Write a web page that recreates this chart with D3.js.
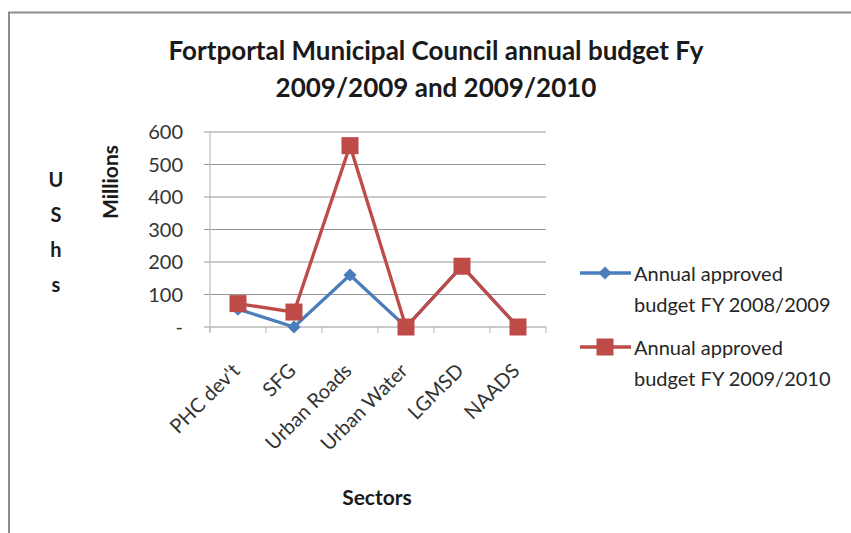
<!DOCTYPE html>
<html>
<head>
<meta charset="utf-8">
<script src="https://cdn.jsdelivr.net/npm/d3@7"></script>
<style>
  body { margin: 0; background: #fff; }
  svg { display: block; font-family: Lato, "Open Sans", sans-serif; }
</style>
</head>
<body>
<div id="chartdiv"></div>
<script>
// Data
var sectors = ["PHC dev't", "SFG", "Urban Roads", "Urban Water", "LGMSD", "NAADS"];
var budget0809 = [55, 0, 160, 0, 187, 0];
var budget0910 = [72, 46, 558, 0, 187, 0];
var yTicks = [0, 100, 200, 300, 400, 500, 600];
var seriesNames = ["Annual approved budget FY 2008/2009", "Annual approved budget FY 2009/2010"];

var svgWidth = 851;
var svgHeight = 533;

var margin = { top: 132, left: 210 };
var width = 336;
var height = 195;

var svg = d3.select("#chartdiv")
    .append("svg")
    .attr("width", svgWidth)
    .attr("height", svgHeight);

// chart frame (only top and left edges visible)
svg.append("path")
    .attr("d", "M9,533 V12.5 H851")
    .attr("fill", "none")
    .attr("stroke", "#8c8c8c")
    .attr("stroke-width", 2);

// title
var title = svg.append("text")
    .attr("text-anchor", "middle")
    .attr("font-weight", "bold")
    .attr("font-size", "26px")
    .attr("fill", "#1a1a1a");
title.append("tspan").attr("x", 436).attr("y", 60).text("Fortportal Municipal Council annual budget Fy");
title.append("tspan").attr("x", 436).attr("y", 97).text("2009/2009 and 2009/2010");

var chartGroup = svg.append("g")
    .attr("transform", `translate(${margin.left}, ${margin.top})`);

var xScale = d3.scaleBand()
    .domain(sectors)
    .range([0, width]);

var yScale = d3.scaleLinear()
    .domain([0, 600])
    .range([height, 0]);

// gridlines
chartGroup.append("g")
    .selectAll("line")
    .data(yTicks)
    .enter()
    .append("line")
    .attr("x1", -6)
    .attr("x2", width)
    .attr("y1", d => yScale(d))
    .attr("y2", d => yScale(d))
    .attr("stroke", "#969696")
    .attr("stroke-width", 1.2);

// y axis line
chartGroup.append("line")
    .attr("x1", 0).attr("x2", 0)
    .attr("y1", 0).attr("y2", height + 5)
    .attr("stroke", "#bdbdbd")
    .attr("stroke-width", 1.2);

// y tick labels
chartGroup.append("g")
    .selectAll("text")
    .data(yTicks)
    .enter()
    .append("text")
    .attr("x", -27)
    .attr("y", d => yScale(d))
    .attr("dy", "0.35em")
    .attr("text-anchor", "end")
    .attr("font-size", "20px")
    .attr("fill", "#333")
    .text(d => d === 0 ? "-" : d);

// x tick marks
var tickPos = sectors.map(s => xScale(s) + xScale.bandwidth()).concat([0]);
chartGroup.append("g")
    .selectAll("line")
    .data(tickPos)
    .enter()
    .append("line")
    .attr("x1", d => d).attr("x2", d => d)
    .attr("y1", height).attr("y2", height + 6)
    .attr("stroke", "#bdbdbd")
    .attr("stroke-width", 1.2);

// x labels rotated
chartGroup.append("g")
    .selectAll("text")
    .data(sectors)
    .enter()
    .append("text")
    .attr("transform", d => `translate(${xScale(d) + xScale.bandwidth() / 2 + 3}, ${height + 45}) rotate(-45)`)
    .attr("text-anchor", "end")
    .attr("font-size", "20px")
    .attr("fill", "#333")
    .text(d => d);

// lines
var line = d3.line()
    .x((d, i) => xScale(sectors[i]) + xScale.bandwidth() / 2)
    .y(d => yScale(d));

var blue = "#4a7ebb";
var red = "#be4b48";

chartGroup.append("path")
    .datum(budget0809)
    .attr("d", line)
    .attr("fill", "none")
    .attr("stroke", blue)
    .attr("stroke-width", 3.3);

chartGroup.append("g")
    .selectAll("path")
    .data(budget0809)
    .enter()
    .append("path")
    .attr("d", d3.symbol().type(d3.symbolDiamond2).size(110))
    .attr("transform", (d, i) => `translate(${xScale(sectors[i]) + xScale.bandwidth() / 2}, ${yScale(d)})`)
    .attr("fill", blue);

chartGroup.append("path")
    .datum(budget0910)
    .attr("d", line)
    .attr("fill", "none")
    .attr("stroke", red)
    .attr("stroke-width", 3.3);

chartGroup.append("g")
    .selectAll("rect")
    .data(budget0910)
    .enter()
    .append("rect")
    .attr("x", (d, i) => xScale(sectors[i]) + xScale.bandwidth() / 2 - 8.5)
    .attr("y", d => yScale(d) - 8.5)
    .attr("width", 17)
    .attr("height", 17)
    .attr("fill", red);

// axis titles
svg.append("text")
    .attr("transform", "translate(118, 182) rotate(-90)")
    .attr("text-anchor", "middle")
    .attr("font-weight", "bold")
    .attr("font-size", "21px")
    .attr("fill", "#1a1a1a")
    .text("Millions");

var ushs = ["U", "S", "h", "s"];
svg.append("g")
    .selectAll("text")
    .data(ushs)
    .enter()
    .append("text")
    .attr("x", 56)
    .attr("y", (d, i) => 187 + i * 35)
    .attr("text-anchor", "middle")
    .attr("font-weight", "bold")
    .attr("font-size", "20px")
    .attr("fill", "#1a1a1a")
    .text(d => d);

svg.append("text")
    .attr("x", 377)
    .attr("y", 505)
    .attr("text-anchor", "middle")
    .attr("font-weight", "bold")
    .attr("font-size", "21px")
    .attr("fill", "#1a1a1a")
    .text("Sectors");

// legend
var legendY = [273, 347];
var legendColors = [blue, red];
var legend = svg.append("g")
    .selectAll("g")
    .data(seriesNames)
    .enter()
    .append("g")
    .attr("transform", (d, i) => `translate(580, ${legendY[i]})`);

legend.append("line")
    .attr("x1", 0).attr("x2", 51)
    .attr("stroke", (d, i) => legendColors[i])
    .attr("stroke-width", 3.3);

legend.filter((d, i) => i === 0)
    .append("path")
    .attr("d", d3.symbol().type(d3.symbolDiamond2).size(110))
    .attr("transform", "translate(25, 0)")
    .attr("fill", blue);

legend.filter((d, i) => i === 1)
    .append("rect")
    .attr("x", 16.5).attr("y", -8.5)
    .attr("width", 17).attr("height", 17)
    .attr("fill", red);

var legendText = legend.append("text")
    .attr("font-size", "20px")
    .attr("fill", "#262626");
legendText.append("tspan")
    .attr("x", 54).attr("y", 8)
    .text("Annual approved");
legendText.append("tspan")
    .attr("x", 54).attr("y", 39)
    .text(d => d.replace("Annual approved ", ""));
</script>
</body>
</html>
